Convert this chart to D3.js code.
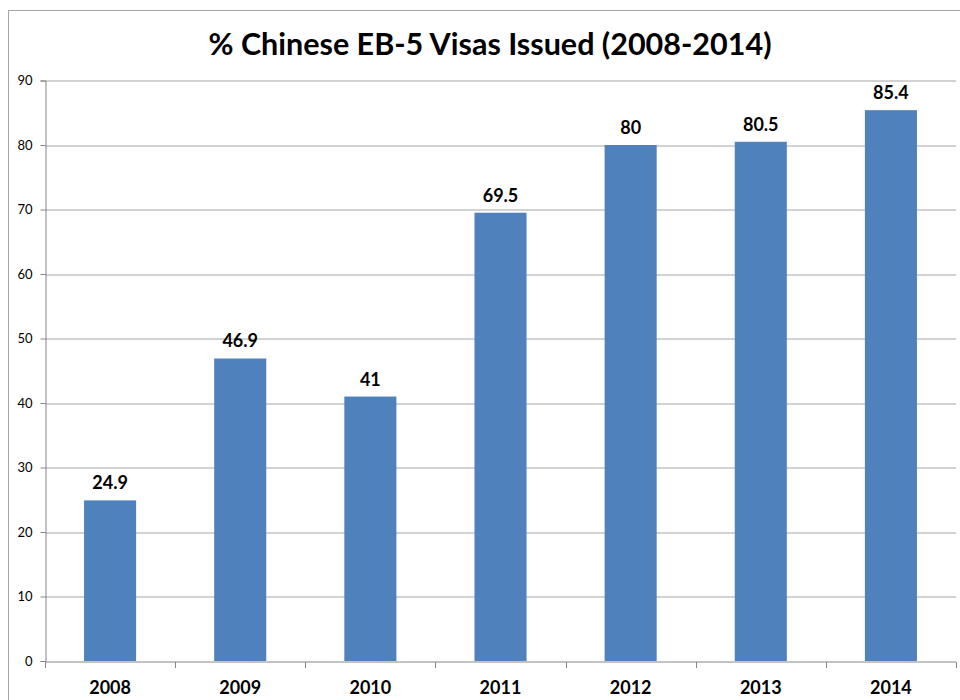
<!DOCTYPE html>
<html>
<head>
<meta charset="utf-8">
<script src="https://cdn.jsdelivr.net/npm/d3@7"></script>
<style>
  body { margin: 0; background: #fff; }
  svg { display: block; font-family: Lato, "Open Sans", sans-serif; }
</style>
</head>
<body>
<div id="chart"></div>
<script>
// data
var years = ["2008", "2009", "2010", "2011", "2012", "2013", "2014"];
var percents = [24.9, 46.9, 41, 69.5, 80, 80.5, 85.4];
var yTicks = [0, 10, 20, 30, 40, 50, 60, 70, 80, 90];

var W = 960, H = 700;
var margin = { top: 80.5, right: 4, bottom: 39, left: 45 },
  width = W - margin.left - margin.right,
  height = H - margin.top - margin.bottom;

var svg = d3.select("#chart")
  .append("svg")
  .attr("width", W)
  .attr("height", H);

// chart frame
svg.append("rect")
  .attr("x", 8.5).attr("y", 10.5)
  .attr("width", W + 20).attr("height", H + 20)
  .attr("fill", "none")
  .attr("stroke", "#a6a6a6");

svg.append("text")
  .attr("x", 490).attr("y", 55)
  .attr("text-anchor", "middle")
  .attr("font-size", 30.5)
  .attr("font-weight", "bold")
  .attr("fill", "#000")
  .text("% Chinese EB-5 Visas Issued (2008-2014)");

var g = svg.append("g")
  .attr("transform", "translate(" + margin.left + "," + margin.top + ")");

var x = d3.scaleBand()
  .domain(years)
  .range([0, width])
  .paddingInner(0.6)
  .paddingOuter(0.3);

var y = d3.scaleLinear()
  .domain([0, 90])
  .range([height, 0]);

// gridlines
g.append("g")
  .selectAll("line")
  .data(yTicks.filter(function (d) { return d > 0; }))
  .enter().append("line")
  .attr("x1", 0).attr("x2", width)
  .attr("y1", function (d) { return Math.round(y(d)) + 0.5; })
  .attr("y2", function (d) { return Math.round(y(d)) + 0.5; })
  .attr("stroke", "#a6a6a6");

// bars
var data = years.map(function (yr, i) { return { year: yr, value: percents[i] }; });

g.selectAll(".bar")
  .data(data)
  .enter().append("rect")
  .attr("class", "bar")
  .attr("x", function (d) { return x(d.year); })
  .attr("y", function (d) { return y(d.value); })
  .attr("width", x.bandwidth())
  .attr("height", function (d) { return height - y(d.value); })
  .attr("fill", "#4f81bd");

g.selectAll(".lbl")
  .data(data)
  .enter().append("text")
  .attr("class", "lbl")
  .attr("x", function (d) { return x(d.year) + x.bandwidth() / 2; })
  .attr("y", function (d) { return y(d.value) - 11; })
  .attr("text-anchor", "middle")
  .attr("font-size", 18)
  .attr("font-weight", "bold")
  .attr("fill", "#000")
  .text(function (d) { return d.value; });

// y axis
var yAxis = g.append("g")
  .attr("transform", "translate(0.5,0)")
  .call(d3.axisLeft(y).tickValues(yTicks).tickSize(5).tickPadding(8));
yAxis.selectAll("line, path").attr("stroke", "#868686");
yAxis.selectAll("text")
  .attr("font-family", "Lato, sans-serif")
  .attr("font-size", 13)
  .attr("fill", "#000");

// x axis: ticks on category boundaries
var xAxis = g.append("g")
  .attr("transform", "translate(0," + (Math.round(height) + 0.5) + ")");
xAxis.append("line")
  .attr("x1", 0).attr("x2", width)
  .attr("stroke", "#868686");
var step = x.step();
xAxis.selectAll(".tk")
  .data(d3.range(years.length + 1))
  .enter().append("line")
  .attr("class", "tk")
  .attr("x1", function (i) { return Math.round(i * step) + 0.5; })
  .attr("x2", function (i) { return Math.round(i * step) + 0.5; })
  .attr("y1", 0).attr("y2", 6)
  .attr("stroke", "#868686");
xAxis.selectAll(".xl")
  .data(years)
  .enter().append("text")
  .attr("class", "xl")
  .attr("x", function (d) { return x(d) + x.bandwidth() / 2; })
  .attr("y", 32)
  .attr("text-anchor", "middle")
  .attr("font-size", 18)
  .attr("font-weight", "bold")
  .attr("fill", "#000")
  .text(function (d) { return d; });
</script>
</body>
</html>
